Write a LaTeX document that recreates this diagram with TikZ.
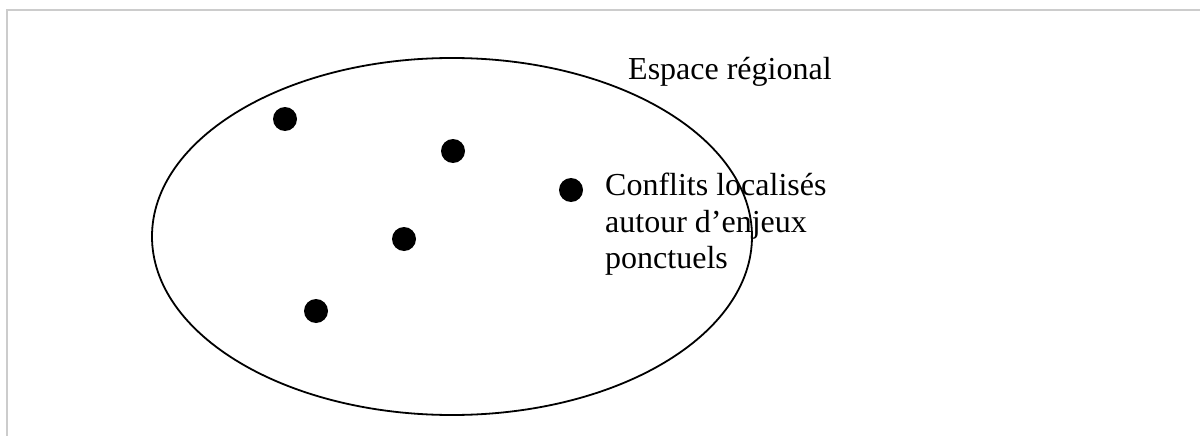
\documentclass[tikz,border=0pt]{standalone}
\usepackage{fontspec}
\setmainfont{Liberation Serif}
\usetikzlibrary{positioning}

\begin{document}
\begin{tikzpicture}[
  x=1pt, y=-1pt,
  dot/.style={circle, fill=black, inner sep=0pt, minimum size=24pt},
  lbl/.style={anchor=base west, inner sep=0pt, align=left, font=\fontsize{32}{36.5}\selectfont}
]
\useasboundingbox (0,0) rectangle (1200,436);
% frame
\draw[gray!40, line width=2.2pt] (7,436) -- (7,10) -- (1200,10);
% regional space
\draw[line width=1.8pt] (452,236.5) ellipse [x radius=300, y radius=178.5];
\node[lbl] (espace) at (628,80) {Espace régional};
% local conflicts
\node[dot] (d1) at (285,119) {};
\node[dot] (d2) at (453,151) {};
\node[dot] (d3) at (571,190) {};
\node[dot] (d4) at (404,239) {};
\node[dot] (d5) at (316,311) {};
\node[lbl, anchor=north west] (conflits) at (605,173) {Conflits localisés\\autour d’enjeux\\ponctuels};
\end{tikzpicture}
\end{document}
